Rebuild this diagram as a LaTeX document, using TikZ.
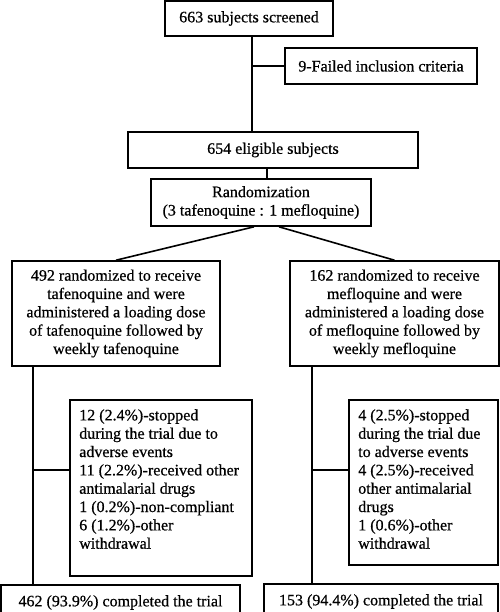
\documentclass[tikz,border=0pt]{standalone}
\usepackage{fontspec}
\setmainfont{Liberation Serif}
\newfontfamily\diagfont{Liberation Serif}[FakeBold=0.6]
\begin{document}
\begin{tikzpicture}[x=0.75pt,y=-0.75pt,
  every node/.style={font=\diagfont\fontsize{12pt}{13.75pt}\selectfont},
  box/.style={draw, line width=1.2pt, inner sep=0pt, align=center},
  txt/.style={inner sep=7.5pt, align=left, anchor=north west},
  conn/.style={line width=1.2pt}]
\useasboundingbox (0,0) rectangle (500,612);
\node[box, minimum width=126pt, minimum height=26.25pt] (screened) at (249,18.5) {663 subjects screened};
\node[box, minimum width=144pt, minimum height=27pt] (failed) at (381,66) {9-Failed inclusion criteria};
\node[box, minimum width=217.5pt, minimum height=27pt] (eligible) at (273,150) {654 eligible subjects};
\node[box, minimum width=165pt, minimum height=35.25pt] (random) at (261,202.5) {Randomization\\(3 tafenoquine : 1 mefloquine)};
\node[box, minimum width=156pt, minimum height=78.75pt] (leftarm) at (116,313.5) {492 randomized to receive\\tafenoquine and were\\administered a loading dose\\of tafenoquine followed by\\weekly tafenoquine};
\node[box, minimum width=156.75pt, minimum height=78.75pt] (rightarm) at (394.5,313.5) {162 randomized to receive\\mefloquine and were\\administered a loading dose\\of mefloquine followed by\\weekly mefloquine};
\node[box, minimum width=136.5pt, minimum height=132pt, anchor=north west] (leftattr) at (69,399) {};
\node[txt] (lefttxt) at (leftattr.north west) {12 (2.4\%)-stopped\\during the trial due to\\adverse events\\11 (2.2\%)-received other\\antimalarial drugs\\1 (0.2\%)-non-compliant\\6 (1.2\%)-other\\withdrawal};
\node[box, minimum width=111.75pt, minimum height=123.75pt, anchor=north west] (rightattr) at (348,399) {};
\node[txt] (righttxt) at (rightattr.north west) {4 (2.5\%)-stopped\\during the trial due\\to adverse events\\4 (2.5\%)-received\\other antimalarial\\drugs\\1 (0.6\%)-other\\withdrawal};
\node[box, minimum width=179.25pt, minimum height=26.25pt] (leftdone) at (120.5,602.5) {462 (93.9\%) completed the trial};
\node[box, minimum width=175.5pt, minimum height=26.25pt] (rightdone) at (381,601.5) {153 (94.4\%) completed the trial};
% connectors
\coordinate (sv) at ([xshift=2.25pt]screened.south);
\draw[conn] (sv) -- (sv |- eligible.north);
\draw[conn] (failed.west) -- (failed.west -| sv);
\coordinate (ev) at ([xshift=4.5pt]random.north);
\draw[conn] (ev) -- (ev |- eligible.south);
\draw[conn] ([xshift=-5.25pt]random.south) -- (leftarm.north);
\draw[conn] ([xshift=13.5pt]random.south) -- (rightarm.north);
\coordinate (lv) at ([xshift=16.5pt]leftarm.south west);
\draw[conn] (lv) -- (lv |- leftdone.north);
\coordinate (lb) at ([yshift=-53.25pt]leftattr.north west);
\draw[conn] (lb) -- (lb -| lv);
\coordinate (rv) at ([xshift=17.25pt]rightarm.south west);
\draw[conn] (rv) -- (rv |- rightdone.north);
\coordinate (rb) at ([yshift=-53.25pt]rightattr.north west);
\draw[conn] (rb) -- (rb -| rv);
\end{tikzpicture}
\end{document}
